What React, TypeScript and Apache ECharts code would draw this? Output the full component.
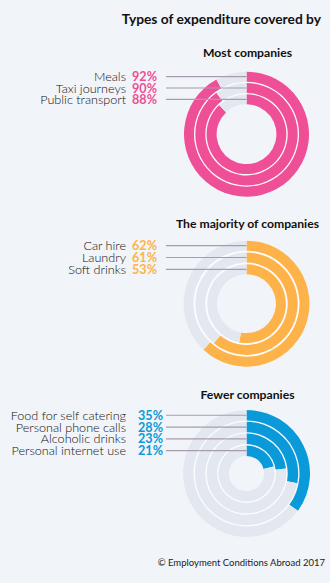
import React, { useEffect, useRef } from "react";
import * as echarts from "echarts";

// ---- data ----
const mostCategories = ["Meals", "Taxi journeys", "Public transport"];
const mostValues = [92, 90, 88];
const majorityCategories = ["Car hire", "Laundry", "Soft drinks"];
const majorityValues = [62, 61, 53];
const fewerCategories = [
  "Food for self catering",
  "Personal phone calls",
  "Alcoholic drinks",
  "Personal internet use",
];
const fewerValues = [35, 28, 23, 21];

const mainTitle = "Types of expenditure covered by";
const groupTitles = ["Most companies", "The majority of companies", "Fewer companies"];
const credit = "© Employment Conditions Abroad 2017";

// ---- styles / layout ----
const BG = "#f1f4f8";
const TRACK = "#e3e8f0";
const SEP = "#fbfcfd";
const LINE = "#a79cae";
const FONT = "Lato, 'Open Sans', sans-serif";

const groups = [
  { title: groupTitles[0], cats: mostCategories, values: mostValues, color: "#ef4f97", cx: 246.5, cy: 134.2, titleY: 52, outer: 62.5, width: 10, pitch: 11.3, pctX: 157 },
  { title: groupTitles[1], cats: majorityCategories, values: majorityValues, color: "#feb34a", cx: 246.5, cy: 303.7, titleY: 223, outer: 63, width: 10, pitch: 11.8, pctX: 157 },
  { title: groupTitles[2], cats: fewerCategories, values: fewerValues, color: "#0a9ad9", cx: 246.5, cy: 473.5, titleY: 394, outer: 63.5, width: 10.5, pitch: 11.8, pctX: 163 },
];

export default function App() {
  const ref = useRef<HTMLDivElement>(null);
  useEffect(() => {
    document.body.style.margin = "0";
    document.body.style.background = BG;
    const chart = echarts.init(ref.current!, null, { renderer: "svg" });

    const series: any[] = [];
    const graphic: any[] = [];

    graphic.push({
      type: "text",
      x: 321,
      y: 18,
      style: { text: mainTitle, align: "right", verticalAlign: "middle", font: `bold 13.8px ${FONT}`, fill: "#111" },
    });
    graphic.push({
      type: "text",
      x: 325,
      y: 562,
      style: { text: credit, align: "right", verticalAlign: "middle", font: `9.5px ${FONT}`, fill: "#222" },
    });

    groups.forEach((g) => {
      const n = g.values.length;
      const innerMost = g.outer - (n - 1) * g.pitch - g.width;
      series.push({
        type: "pie",
        silent: true,
        center: [g.cx, g.cy],
        radius: [innerMost, g.outer],
        label: { show: false },
        labelLine: { show: false },
        emphasis: { disabled: true },
        z: 1,
        data: [{ value: 1, itemStyle: { color: SEP } }],
      });
      g.values.forEach((v, i) => {
        const ro = g.outer - i * g.pitch;
        const ri = ro - g.width;
        series.push({
          type: "pie",
          silent: true,
          center: [g.cx, g.cy],
          radius: [ri, ro],
          startAngle: 90,
          clockwise: true,
          label: { show: false },
          labelLine: { show: false },
          emphasis: { disabled: true },
          z: 2,
          data: [
            { value: v, name: g.cats[i], itemStyle: { color: g.color } },
            { value: 100 - v, name: "rest", itemStyle: { color: TRACK } },
          ],
        });
        const y = g.cy - (ro - g.width / 2);
        graphic.push({
          type: "line",
          z: 100,
          shape: { x1: 166, y1: y, x2: g.cx, y2: y },
          style: { stroke: LINE, lineWidth: 1.2 },
        });
        graphic.push({
          type: "text",
          z: 100,
          x: 126,
          y: y,
          style: { text: g.cats[i], align: "right", verticalAlign: "middle", font: `300 12.6px ${FONT}`, fill: "#111", lineHeight: 11 },
        });
        graphic.push({
          type: "text",
          z: 100,
          x: g.pctX,
          y: y,
          style: { text: `${v}%`, align: "right", verticalAlign: "middle", font: `bold 12.6px ${FONT}`, fill: g.color, lineHeight: 11 },
        });
      });
      graphic.push({
        type: "text",
        x: 247.5,
        y: g.titleY,
        style: { text: g.title, align: "center", verticalAlign: "middle", font: `bold 12.2px ${FONT}`, fill: "#111" },
      });
    });

    chart.setOption({
      animation: false,
      backgroundColor: BG,
      series,
      graphic,
    });
    return () => chart.dispose();
  }, []);
  return <div ref={ref} style={{ width: 330, height: 583, background: BG }} />;
}
